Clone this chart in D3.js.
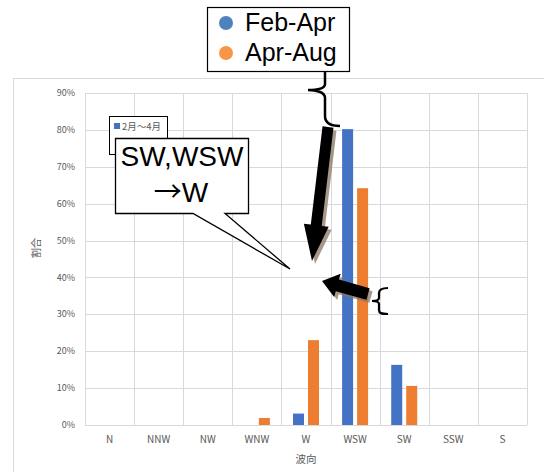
<!DOCTYPE html>
<html>
<head>
<meta charset="utf-8">
<script src="https://cdn.jsdelivr.net/npm/d3@7"></script>
<style>
  body { margin: 0; background: #fff; }
  svg { display: block; }
</style>
</head>
<body>
<div id="chart"></div>
<script>
// data (percent)
var categories = ['N', 'NNW', 'NW', 'WNW', 'W', 'WSW', 'SW', 'SSW', 'S'];
var seriesNames = ['2月～4月', '4月～8月'];
var febApr = [0, 0, 0, 0, 3.1, 80.2, 16.3, 0, 0];
var aprAug = [0, 0, 0, 1.9, 23.0, 64.2, 10.6, 0, 0];
var yTicks = [0, 10, 20, 30, 40, 50, 60, 70, 80, 90];
var legendLabels = ['Feb-Apr', 'Apr-Aug'];
var colors = ['#4472C4', '#ED7D31'];

var width = 544, height = 472;
var plot = {left: 85, right: 527, top: 93, bottom: 425};
var jp = '"Noto Sans CJK JP", "Noto Sans", sans-serif';
var arial = '"Liberation Sans", Arial, sans-serif';

var svg = d3.select('#chart').append('svg')
  .attr('width', width)
  .attr('height', height);

// chart area border
svg.append('rect')
  .attr('x', 13.5).attr('y', 78.5)
  .attr('width', 560).attr('height', 420)
  .attr('fill', '#fff')
  .attr('stroke', '#d9d9d9');

var x = d3.scaleBand().domain(categories).range([plot.left, plot.right]);
var y = d3.scaleLinear().domain([0, 90]).range([plot.bottom, plot.top]);
var xInner = d3.scaleBand().domain(seriesNames).range([-13, 13]).paddingInner(0.267);

// gridlines
svg.append('g').selectAll('line').data(yTicks).join('line')
  .attr('x1', plot.left).attr('x2', plot.right)
  .attr('y1', function(d) { return Math.round(y(d)) + 0.5; })
  .attr('y2', function(d) { return Math.round(y(d)) + 0.5; })
  .attr('stroke', '#d9d9d9');

var vlines = categories.map(function(c) { return x(c); }).concat([plot.right]);
svg.append('g').selectAll('line').data(vlines).join('line')
  .attr('x1', function(d) { return Math.round(d) + 0.5; })
  .attr('x2', function(d) { return Math.round(d) + 0.5; })
  .attr('y1', plot.top).attr('y2', plot.bottom)
  .attr('stroke', '#d9d9d9');

// y tick labels
svg.append('g').selectAll('text').data(yTicks).join('text')
  .attr('x', 75)
  .attr('y', function(d) { return y(d); })
  .attr('dy', '0.35em')
  .attr('text-anchor', 'end')
  .attr('font-family', jp)
  .attr('font-size', 9)
  .attr('fill', '#595959')
  .text(function(d) { return d + '%'; });

// x tick labels
svg.append('g').selectAll('text').data(categories).join('text')
  .attr('x', function(d) { return x(d) + x.bandwidth() / 2; })
  .attr('y', 443)
  .attr('text-anchor', 'middle')
  .attr('font-family', jp)
  .attr('font-size', 10)
  .attr('fill', '#595959')
  .text(function(d) { return d; });

// axis titles
svg.append('text')
  .attr('x', 306).attr('y', 463)
  .attr('text-anchor', 'middle')
  .attr('font-family', jp).attr('font-size', 10.5)
  .attr('fill', '#595959')
  .text('波向');

svg.append('text')
  .attr('transform', 'translate(40,248) rotate(-90)')
  .attr('text-anchor', 'middle')
  .attr('font-family', jp).attr('font-size', 10)
  .attr('fill', '#595959')
  .text('割合');

// bars
var series = [febApr, aprAug];
series.forEach(function(vals, i) {
  svg.append('g').selectAll('rect')
    .data(vals.map(function(v, j) { return {cat: categories[j], v: v}; }).filter(function(d) { return d.v > 0; }))
    .join('rect')
      .attr('x', function(d) { return x(d.cat) + x.bandwidth() / 2 + xInner(seriesNames[i]); })
      .attr('width', xInner.bandwidth())
      .attr('y', function(d) { return y(d.v); })
      .attr('height', function(d) { return y(0) - y(d.v); })
      .attr('fill', colors[i]);
});

// small excel legend (partly hidden)
svg.append('rect')
  .attr('x', 109.5).attr('y', 116.5).attr('width', 58).attr('height', 38)
  .attr('fill', '#fff').attr('stroke', '#000');
svg.append('rect')
  .attr('x', 114).attr('y', 123).attr('width', 6).attr('height', 6)
  .attr('fill', colors[0]);
svg.append('text')
  .attr('x', 122).attr('y', 130)
  .attr('font-family', jp).attr('font-size', 9.5)
  .attr('fill', '#595959')
  .text(seriesNames[0]);

// callout
svg.append('path')
  .attr('d', 'M115.5,138.5 L248.5,138.5 L248.5,213.5 L225,213.5 L290,269 L193,213.5 L115.5,213.5 Z')
  .attr('fill', '#fff').attr('stroke', '#000').attr('stroke-width', 1.3);
svg.append('text')
  .attr('x', 182).attr('y', 166)
  .attr('text-anchor', 'middle')
  .attr('font-family', arial).attr('font-size', 28)
  .text('SW,WSW');
var t2 = svg.append('text')
  .attr('x', 181).attr('y', 202)
  .attr('text-anchor', 'middle')
  .attr('font-family', arial).attr('font-size', 28);
t2.append('tspan').attr('font-family', jp).text('→');
t2.append('tspan').text('W');

// block arrows with shadow
function arrow(x1, y1, x2, y2, shaft, head, headLen) {
  var a = Math.atan2(y2 - y1, x2 - x1);
  var len = Math.hypot(x2 - x1, y2 - y1);
  var s = shaft / 2, h = head / 2, b = len - headLen;
  var pts = [[0, -s], [b, -s], [b, -h], [len, 0], [b, h], [b, s], [0, s]];
  return 'M' + pts.map(function(p) {
    return [x1 + p[0] * Math.cos(a) - p[1] * Math.sin(a),
            y1 + p[0] * Math.sin(a) + p[1] * Math.cos(a)].join(',');
  }).join('L') + 'Z';
}
var arrows = [
  [328, 127, 312, 261, 11, 25, 36],
  [368, 294, 322, 281, 12, 24, 16]
];
arrows.forEach(function(p) {
  svg.append('path')
    .attr('d', arrow(p[0], p[1], p[2], p[3], p[4], p[5], p[6]))
    .attr('transform', 'translate(3,3)')
    .attr('fill', '#8a7566').attr('opacity', 0.75);
  svg.append('path')
    .attr('d', arrow(p[0], p[1], p[2], p[3], p[4], p[5], p[6]))
    .attr('fill', '#000');
});

// braces
svg.append('path')
  .attr('d', 'M341,57 C330,56 325,60 325,68 L325,84 C325,89 316,90 308,90 C316,90 325,92 325,98 L325,116 C325,124 332,126 340,126')
  .attr('fill', 'none').attr('stroke', '#000').attr('stroke-width', 2.5);
svg.append('path')
  .attr('d', 'M388,288 C381,288 379,290 379,293 L379,298 C379,300 376,301 372,301 C376,301 379,302 379,304 L379,310 C379,313 381,314 388,314')
  .attr('fill', 'none').attr('stroke', '#000').attr('stroke-width', 2.2);

// top legend
svg.append('rect')
  .attr('x', 207.5).attr('y', 7.5).attr('width', 142).attr('height', 64)
  .attr('fill', '#fff').attr('stroke', '#000').attr('stroke-width', 1.2);
var lg = svg.append('g').selectAll('g').data(legendLabels).join('g')
  .attr('transform', function(d, i) { return 'translate(0,' + (i * 30) + ')'; });
lg.append('circle')
  .attr('cx', 226).attr('cy', 23).attr('r', 7)
  .attr('fill', function(d, i) { return i ? '#F79646' : '#4F81BD'; });
lg.append('text')
  .attr('x', 245).attr('y', 31)
  .attr('font-family', arial).attr('font-size', 25)
  .text(function(d) { return d; });
</script>
</body>
</html>
